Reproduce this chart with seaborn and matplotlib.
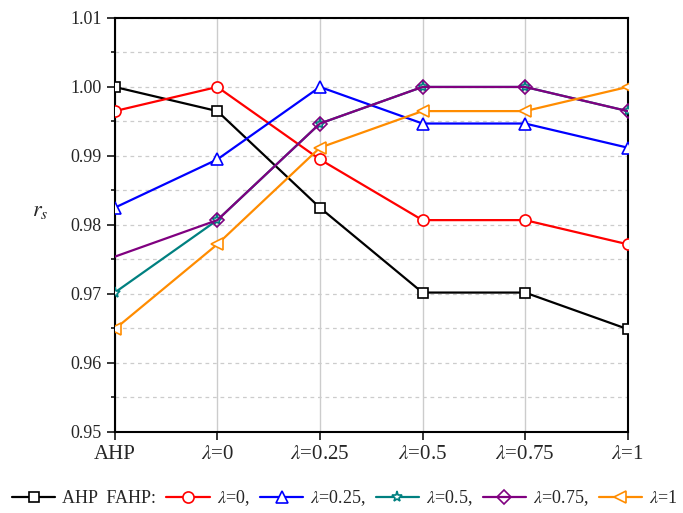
import matplotlib
matplotlib.use('Agg')
import matplotlib.pyplot as plt
from matplotlib.ticker import MultipleLocator
import seaborn as sns

categories = ['AHP', r'$\lambda$=0', r'$\lambda$=0.25', r'$\lambda$=0.5', r'$\lambda$=0.75', r'$\lambda$=1']
ahp = [1.000, 0.9965, 0.9825, 0.9702, 0.9702, 0.9649]
lam_0 = [0.9965, 1.000, 0.9895, 0.9807, 0.9807, 0.9772]
lam_025 = [0.9825, 0.9895, 1.000, 0.9947, 0.9947, 0.9912]
lam_05 = [0.9702, 0.9807, 0.9947, 1.000, 1.000, 0.9965]
lam_075 = [0.9754, 0.9807, 0.9947, 1.000, 1.000, 0.9965]
lam_1 = [0.9649, 0.9772, 0.9912, 0.9965, 0.9965, 1.000]
labels = ['AHP  FAHP:', r'$\lambda$=0,', r'$\lambda$=0.25,', r'$\lambda$=0.5,', r'$\lambda$=0.75,', r'$\lambda$=1']

sns.set_style('white')
plt.rcParams['font.family'] = ['Liberation Serif', 'DejaVu Serif']
plt.rcParams['mathtext.fontset'] = 'stix'

fig = plt.figure(figsize=(6.83, 5.13), dpi=100)
ax = fig.add_axes([0.168, 0.158, 0.751, 0.807])

x = list(range(len(categories)))
# (values, colour, marker, size, face, which points get a marker)
series = [
    (ahp, 'black', 's', 6.5, 'white', None),
    (lam_0, 'red', 'o', 8, 'white', None),
    (lam_025, 'blue', '^', 9, 'white', None),
    (lam_05, 'teal', '*', 8, 'white', None),
    (lam_075, 'purple', 'D', 7, 'none', [1, 2, 3, 4, 5]),
    (lam_1, 'darkorange', '<', 9, 'white', None),
]
for (vals, col, mk, ms, fc, every), lab in zip(series, labels):
    sns.lineplot(x=x, y=vals, ax=ax, color=col, marker=mk, markersize=ms,
                 markerfacecolor=fc, markeredgecolor=col, markeredgewidth=1.2,
                 markevery=every, linewidth=1.6, label=lab, zorder=3)

ax.set_xlim(0, 5)
ax.set_ylim(0.95, 1.01)
ax.set_xticks(x)
ax.set_xticklabels(categories, fontsize=15)
ax.yaxis.set_major_locator(MultipleLocator(0.01))
ax.yaxis.set_minor_locator(MultipleLocator(0.005))
ax.set_yticklabels([f'{v:.2f}' for v in ax.get_yticks()], fontsize=13)
ax.tick_params(axis='both', which='major', direction='out', length=6, width=1.3, left=True, bottom=True)
ax.tick_params(axis='y', which='minor', direction='out', length=3, width=1.3, left=True)

ax.grid(axis='x', which='major', color='#cccccc', linestyle='-', linewidth=1)
ax.grid(axis='y', which='both', color='#cccccc', linestyle=(0, (3, 3)), linewidth=0.9)
for s in ax.spines.values():
    s.set_color('black')
    s.set_linewidth(1.5)

ax.set_ylabel(r'$r_s$', rotation=0, fontsize=16)
ax.yaxis.set_label_coords(-0.145, 0.51)

h, l = ax.get_legend_handles_labels()
ax.legend_.remove()
fig.legend(h, l, loc='lower center', bbox_to_anchor=(0.505, -0.022), ncol=6, frameon=False,
           fontsize=13, handlelength=2.4, handletextpad=0.4, columnspacing=0.55)

fig.savefig('out.png', dpi=100)
